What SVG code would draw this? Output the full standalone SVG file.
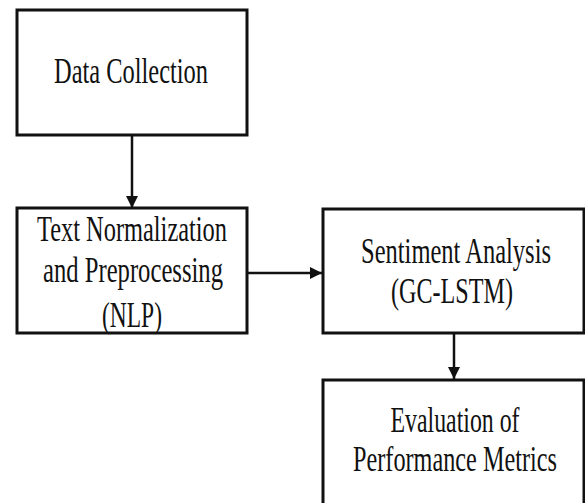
<svg xmlns="http://www.w3.org/2000/svg" width="585" height="503" viewBox="0 0 585 503">
<defs>
<style>
.box{fill:#fff;stroke:#111;stroke-width:3}
.t{font-family:"Liberation Serif","DejaVu Serif",serif;font-size:35px;fill:#111;text-anchor:middle}
.c{stroke:#111;stroke-width:2.5;fill:none}
</style>
<marker id="ah" viewBox="0 0 12 12" refX="12" refY="6" markerWidth="12" markerHeight="12" markerUnits="userSpaceOnUse" orient="auto">
<path d="M0,0 L12,6 L0,12 Z" fill="#111"/>
</marker>
</defs>
<rect width="585" height="503" fill="#fff"/>
<g id="n1">
<rect class="box" x="17" y="10" width="230" height="125"/>
<text class="t" x="131" y="83" textLength="154" lengthAdjust="spacingAndGlyphs">Data Collection</text>
</g>
<g id="n2">
<rect class="box" x="17" y="208" width="230" height="125"/>
<text class="t" x="132" y="241" textLength="190" lengthAdjust="spacingAndGlyphs">Text Normalization</text>
<text class="t" x="133" y="282" textLength="180" lengthAdjust="spacingAndGlyphs">and Preprocessing</text>
<text class="t" x="132" y="327" textLength="60" lengthAdjust="spacingAndGlyphs">(NLP)</text>
</g>
<g id="n3">
<rect class="box" x="323" y="209" width="261" height="124"/>
<text class="t" x="456" y="263" textLength="190" lengthAdjust="spacingAndGlyphs">Sentiment Analysis</text>
<text class="t" x="452" y="303" textLength="122" lengthAdjust="spacingAndGlyphs">(GC-LSTM)</text>
</g>
<g id="n4">
<rect class="box" x="323" y="380" width="261" height="140"/>
<text class="t" x="455" y="432" textLength="129" lengthAdjust="spacingAndGlyphs">Evaluation of</text>
<text class="t" x="455" y="471" textLength="204" lengthAdjust="spacingAndGlyphs">Performance Metrics</text>
</g>
<g id="connectors">
<line class="c" x1="132" y1="136" x2="132" y2="208" marker-end="url(#ah)"/>
<line class="c" x1="248" y1="273" x2="322" y2="273" marker-end="url(#ah)"/>
<line class="c" x1="454" y1="334" x2="454" y2="379" marker-end="url(#ah)"/>
</g>
</svg>
